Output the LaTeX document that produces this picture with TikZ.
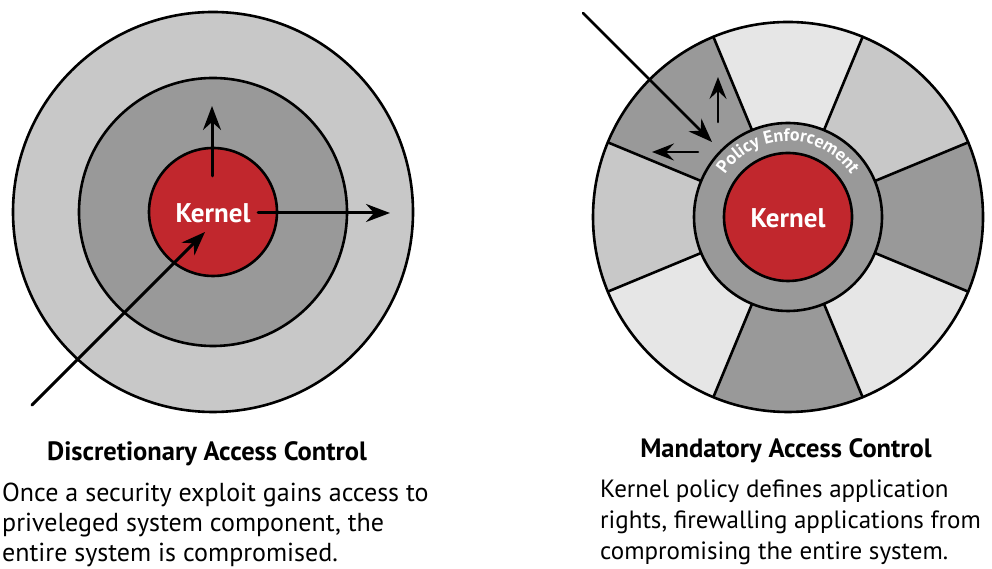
\documentclass[tikz,border=0pt]{standalone}
\usepackage{fontspec}
\setmainfont{PT Sans}
\usetikzlibrary{arrows.meta,calc,decorations.text}
\definecolor{kernelred}{RGB}{193,39,45}
\definecolor{ringlight}{RGB}{200,200,200}
\definecolor{ringdark}{RGB}{153,153,153}
\definecolor{seglight}{RGB}{230,230,230}
\tikzset{
	kernellabel/.style={text=white, font=\fontsize{27}{27}\selectfont\bfseries, inner sep=0pt},
	heading/.style={font=\fontsize{26.5}{26.5}\selectfont\bfseries, anchor=base, inner sep=0pt},
	caption/.style={font=\fontsize{26}{30}\selectfont, align=left, anchor=base west, inner sep=0pt},
	rim/.style={line width=2.6pt}
}
\begin{document}
\begin{tikzpicture}[x=1pt, y=1pt, line join=round, line cap=round, >={Stealth[length=24pt,width=18pt,inset=8pt]}]
	\useasboundingbox (0,0) rectangle (992,569);
	\coordinate (L) at (213,357);
	\coordinate (R) at (788,352);
	% discretionary
	\draw[rim, fill=ringlight] (L) circle(200);
	\draw[rim, fill=ringdark] (L) circle(134);
	\draw[rim, fill=kernelred] (L) circle(64);
	\node[kernellabel] (K1) at (213,356) {Kernel};
	\coordinate (U1) at (212,393);
	\coordinate (U2) at (212,463);
	\coordinate (E1) at (258,356);
	\coordinate (E2) at (390,356);
	\coordinate (X1) at (32,164);
	\coordinate (X2) at (205,337);
	\draw[line width=3pt, ->] (U1)--(U2);
	\draw[line width=3pt, ->] (E1)--(E2);
	\draw[line width=3pt, ->] (X1)--(X2);
	% mandatory
	\foreach \ang/\col in {90/seglight,45/ringlight,0/ringdark,-45/seglight,-90/ringdark,-135/seglight,180/ringlight,135/ringdark}
		\fill[\col] (R) -- ++(\ang-22.5:195) arc[start angle=\ang-22.5, end angle=\ang+22.5, radius=195] -- cycle;
	\foreach \ang in {22.5,67.5,...,337.5}
		\draw[rim] ($(R)+(\ang:94)$) -- ($(R)+(\ang:195)$);
	\draw[rim] (R) circle(195);
	\draw[rim, fill=ringdark] (R) circle(94);
	\draw[rim, fill=kernelred] (R) circle(64);
	\path[decorate, decoration={text along path, text align=center, text={|\fontsize{18}{18}\selectfont\bfseries\color{white}|Policy Enforcement}}] ($(R)+(155:76)$) arc[start angle=155, end angle=25, radius=76];
	\node[kernellabel] (K2) at (788,351) {Kernel};
	\coordinate (A1) at (583,556);
	\coordinate (A2) at (712,427);
	\coordinate (B1) at (718,447);
	\coordinate (B2) at (718,492);
	\coordinate (C1) at (698,417);
	\coordinate (C2) at (652,417);
	\draw[line width=2.6pt, ->] (A1)--(A2);
	\draw[line width=2.6pt, ->, >={Stealth[length=22pt,width=17pt,inset=8pt]}] (B1)--(B2);
	\draw[line width=2.6pt, ->, >={Stealth[length=22pt,width=17pt,inset=8pt]}] (C1)--(C2);
	% captions
	\node[heading] (dac) at (207,108) {Discretionary Access Control};
	\node[caption] (dactext) at (2,7) {Once a security exploit gains access to\\priveleged system component, the\\entire system is compromised.};
	\node[heading] (mac) at (786,111) {Mandatory Access Control};
	\node[caption, font=\fontsize{25}{31}\selectfont] (mactext) at (600,9) {Kernel policy defines application\\rights, firewalling applications from\\compromising the entire system.};
\end{tikzpicture}
\end{document}
